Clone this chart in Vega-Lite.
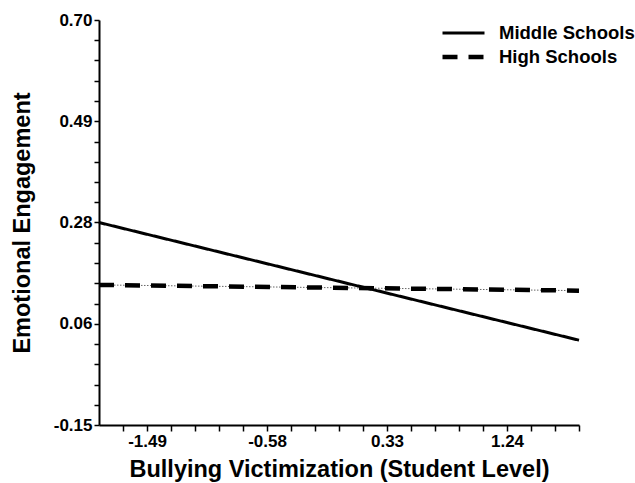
{
  "$schema": "https://vega.github.io/schema/vega-lite/v6.json",
  "width": 480,
  "height": 405,
  "autosize": {"type": "none"},
  "padding": {"left": 99, "top": 20, "right": 56, "bottom": 58},
  "background": "white",
  "config": {
    "view": {"stroke": null},
    "font": "Liberation Sans",
    "axis": {
      "domainColor": "black",
      "domainWidth": 2,
      "tickColor": "black",
      "tickWidth": 1.5,
      "labelColor": "black",
      "labelFont": "Liberation Sans",
      "labelFontWeight": "bold",
      "labelFontSize": 17,
      "titleFont": "Liberation Sans",
      "titleFontWeight": "bold",
      "titleFontSize": 23.5,
      "titleColor": "black",
      "grid": false
    },
    "legend": {
      "labelFont": "Liberation Sans",
      "labelFontWeight": "bold",
      "labelFontSize": 18.5,
      "labelColor": "black"
    }
  },
  "data": {
    "values": [
      {"school": "Middle Schools", "x": -1.854, "y": 0.275},
      {"school": "Middle Schools", "x": 1.786, "y": 0.028},
      {"school": "High Schools", "x": -1.854, "y": 0.144},
      {"school": "High Schools", "x": 1.786, "y": 0.132}
    ]
  },
  "encoding": {
    "x": {
      "field": "x", "type": "quantitative",
      "scale": {"domain": [-1.854, 1.786], "nice": false, "zero": false},
      "axis": {
        "orient": "bottom",
        "values": [-1.672, -1.49, -1.308, -1.126, -0.944, -0.762, -0.58, -0.398, -0.216, -0.034, 0.148, 0.33, 0.512, 0.694, 0.876, 1.058, 1.24, 1.422, 1.604, 1.786],
        "labelExpr": "abs((datum.value + 1.49) / 0.91 - round((datum.value + 1.49) / 0.91)) < 0.01 ? replace(format(datum.value, '.2f'), '\u2212', '-') : ''",
        "labelOverlap": false,
        "labelFlush": false,
        "labelBound": false,
        "tickSize": 6,
        "labelPadding": 2,
        "title": "Bullying Victimization (Student Level)",
        "titlePadding": 8
      }
    },
    "y": {
      "field": "y", "type": "quantitative",
      "scale": {"domain": [-0.15, 0.7], "nice": false, "zero": false},
      "axis": {
        "orient": "left",
        "values": [-0.15, -0.1075, -0.065, -0.0225, 0.02, 0.0625, 0.105, 0.1475, 0.19, 0.2325, 0.275, 0.3175, 0.36, 0.4025, 0.445, 0.4875, 0.53, 0.5725, 0.615, 0.6575, 0.7],
        "labelExpr": "abs((datum.value + 0.15) / 0.2125 - round((datum.value + 0.15) / 0.2125)) < 0.01 ? replace(format(datum.value, '.2f'), '\u2212', '-') : ''",
        "labelOverlap": false,
        "labelFlush": false,
        "labelBound": false,
        "tickSize": 5,
        "labelPadding": 2,
        "title": "Emotional Engagement",
        "titlePadding": 19
      }
    }
  },
  "layer": [
    {
      "transform": [{"filter": "datum.school === 'High Schools'"}],
      "mark": {"type": "line", "color": "#666", "strokeWidth": 1, "strokeDash": [1.5, 1.5]}
    },
    {
      "mark": {"type": "line", "color": "black"},
      "encoding": {
        "strokeDash": {
          "field": "school", "type": "nominal",
          "scale": {"domain": ["Middle Schools", "High Schools"], "range": [[1, 0], [15, 11]]},
          "legend": {
            "title": null,
            "orient": "none",
            "legendX": 341,
            "legendY": 1,
            "symbolType": "stroke",
            "symbolSize": 1764,
            "symbolStrokeColor": "black",
            "labelOffset": 12,
            "clipHeight": 24,
            "rowPadding": 0
          }
        },
        "strokeWidth": {
          "field": "school", "type": "nominal",
          "scale": {"domain": ["Middle Schools", "High Schools"], "range": [3, 4.5]},
          "legend": {
            "title": null,
            "orient": "none",
            "legendX": 341,
            "legendY": 1,
            "symbolType": "stroke",
            "symbolSize": 1764,
            "symbolStrokeColor": "black",
            "labelOffset": 12,
            "clipHeight": 24,
            "rowPadding": 0
          }
        }
      }
    }
  ]
}
